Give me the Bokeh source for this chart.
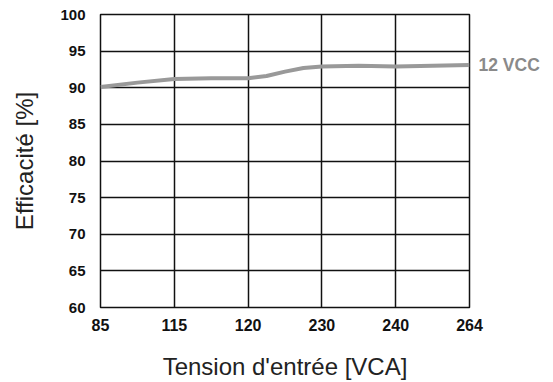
from bokeh.plotting import figure
from bokeh.models import FixedTicker, LinearAxis
from bokeh.embed import file_html
from bokeh.resources import INLINE

# Data
voltage_labels = ["85", "115", "120", "230", "240", "264"]
curve_pos = [0, 0.5, 1, 1.5, 2, 2.25, 2.5, 2.75, 3, 3.5, 4, 4.5, 5]
efficiency_12vcc = [90.1, 90.7, 91.2, 91.3, 91.3, 91.6, 92.2, 92.7, 92.9, 93.0, 92.9, 93.0, 93.1]
y_ticks = [60, 65, 70, 75, 80, 85, 90, 95, 100]
series_name = "12 VCC"

FONT = "Liberation Sans"

p = figure(frame_width=369, frame_height=293,
           x_range=(0, len(voltage_labels) - 1), y_range=(60, 100),
           output_backend="svg", toolbar_location=None,
           min_border_left=100, min_border_right=82,
           min_border_top=14, min_border_bottom=73)
p.background_fill_color = "white"
p.border_fill_color = "white"
p.outline_line_color = "#111111"
p.outline_line_width = 1.5

p.line(curve_pos, efficiency_12vcc, line_color="#999999", line_width=4)

p.xaxis.ticker = FixedTicker(ticks=list(range(len(voltage_labels))))
p.xaxis.major_label_overrides = {i: s for i, s in enumerate(voltage_labels)}
p.yaxis.ticker = FixedTicker(ticks=y_ticks)

# series label on a right-hand axis at the last value of the curve
end_val = efficiency_12vcc[-1]
rax = LinearAxis(ticker=FixedTicker(ticks=[end_val]),
                 major_label_overrides={end_val: series_name})
p.add_layout(rax, "right")

for ax in (p.xaxis[0], p.yaxis[0], rax):
    ax.axis_line_color = None
    ax.major_tick_line_color = None
    ax.minor_tick_line_color = None
    ax.major_tick_out = 0
    ax.major_tick_in = 0
    ax.major_label_text_font = FONT
    ax.major_label_text_font_style = "bold"
    ax.axis_label_text_font = FONT
    ax.axis_label_text_font_style = "normal"
    ax.axis_label_text_font_size = "24px"
    ax.axis_label_text_color = "#222222"

p.xaxis[0].major_label_text_font_size = "16px"
p.yaxis[0].major_label_text_font_size = "15px"
p.xaxis[0].major_label_text_color = "#111111"
p.yaxis[0].major_label_text_color = "#111111"
rax.major_label_text_font_size = "17.5px"
rax.major_label_text_color = "#8a8a8a"
rax.major_label_standoff = 9

p.xaxis[0].axis_label = "Tension d'entrée [VCA]"
p.yaxis[0].axis_label = "Efficacité [%]"
p.xaxis[0].major_label_standoff = 11
p.yaxis[0].major_label_standoff = 15
p.xaxis[0].axis_label_standoff = 19
p.yaxis[0].axis_label_standoff = 19

p.xgrid.grid_line_color = "#111111"
p.xgrid.grid_line_width = 1.5
p.ygrid.grid_line_color = "#111111"
p.ygrid.grid_line_width = 1.5

open("out.html", "w").write(file_html(p, INLINE))
